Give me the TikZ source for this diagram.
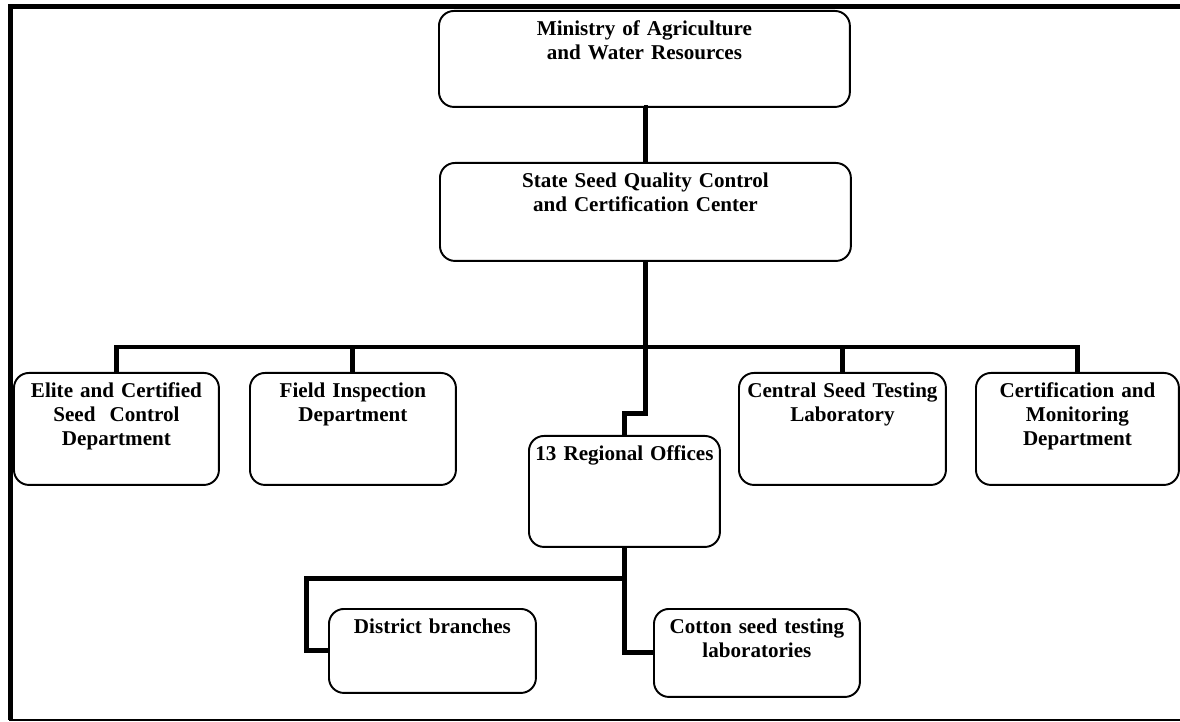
\documentclass[tikz,border=0pt]{standalone}
\usepackage{fontspec}
\setmainfont{Liberation Serif}
\begin{document}
\begin{tikzpicture}[x=0.02cm,y=-0.02cm,
  unit/.style={draw,line width=1.1pt,rounded corners=0.3cm,anchor=north west,inner sep=0pt,
    align=center,text height=0.5cm,font=\fontsize{12}{13.5}\selectfont\bfseries},
  link/.style={line width=2.8pt}]
\useasboundingbox (0,0) rectangle (1180,722);

\draw[line width=2.8pt] (1180,6.5) -- (10.5,6.5) -- (10.5,720);
\draw[line width=0.9pt] (9,720) -- (1180,720);

\node[unit,text width=8.22cm,text depth=1.42cm] (min) at (438,10) {Ministry of Agriculture\\and Water Resources};
\node[unit,text width=8.22cm,text depth=1.46cm] (ssc) at (439,162) {State Seed Quality Control\\and Certification Center};

\node[unit,text width=4.1cm,text depth=1.74cm] (elite) at (13,372) {Elite and Certified\\Seed~ Control\\Department};
\node[unit,text width=4.12cm,text depth=1.74cm] (field) at (249,372) {Field Inspection\\Department};
\node[unit,text width=3.82cm,text depth=1.72cm] (reg) at (528,435) {13 Regional Offices};
\node[unit,text width=4.14cm,text depth=1.74cm] (lab) at (738,372) {Central Seed Testing\\Laboratory};
\node[unit,text width=4.06cm,text depth=1.74cm] (cert) at (975,372) {Certification and\\Monitoring\\Department};

\node[unit,text width=4.14cm,text depth=1.18cm] (dist) at (328,608) {District branches};
\node[unit,text width=4.12cm,text depth=1.26cm] (cotton) at (653,608) {Cotton seed testing\\laboratories};

\coordinate (bus) at (644,347);
\draw[link] (min.south) -- (ssc.south |- min.south) -- (ssc.north);
\draw[link] (elite.north) |- (bus) -| (cert.north);
\draw[link] (field.north) -- (field.north |- bus);
\draw[link] (lab.north) -- (lab.north |- bus);
\draw[link] (ssc.south) -- ++(0,152) -| (reg.north);
\draw[link] (reg.south) |- ++(-318,31) |- (dist.west);
\draw[link] (reg.south) |- (cotton.west);

\end{tikzpicture}
\end{document}
